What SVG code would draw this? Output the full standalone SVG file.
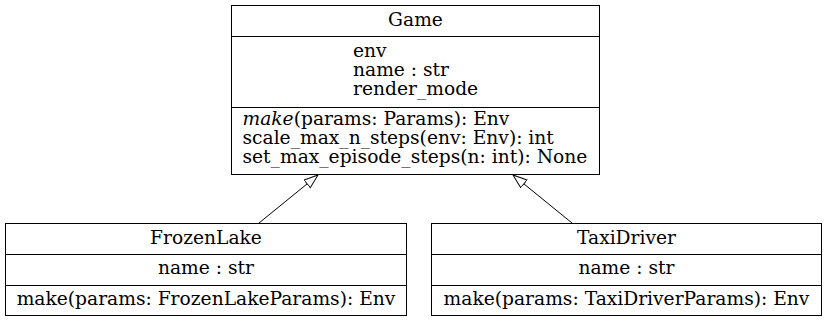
<svg xmlns="http://www.w3.org/2000/svg" width="827" height="321" viewBox="0 0 827 321">
  <style>
    .box { fill: #ffffff; stroke: #000000; stroke-width: 1; }
    .sep { stroke: #000000; stroke-width: 1; }
    text { font-family: "DejaVu Serif", "Liberation Serif", serif; font-size: 18.67px; fill: #000000; }
    .c { text-anchor: middle; }
    .edge { stroke: #000000; stroke-width: 1; fill: none; marker-end: url(#inherit); }
  </style>
  <defs>
    <marker id="inherit" markerUnits="userSpaceOnUse" markerWidth="16" markerHeight="12" refX="14.5" refY="5.5" orient="auto">
      <path d="M0.5,0.5 L14.5,5.5 L0.5,10.5 Z" fill="#ffffff" stroke="#000000" stroke-width="1"/>
    </marker>
  </defs>

  <g id="connectors">
    <line class="edge" x1="259" y1="223" x2="318" y2="175"/>
    <line class="edge" x1="572" y1="223" x2="513" y2="175"/>
  </g>

  <g id="Game">
    <rect class="box" x="231.5" y="5.5" width="368" height="169"/>
    <line class="sep" x1="231.5" y1="36.5" x2="599.5" y2="36.5"/>
    <line class="sep" x1="231.5" y1="107.5" x2="599.5" y2="107.5"/>
    <text class="c" x="415.5" y="26">Game</text>
    <text x="353" y="56.5">env</text>
    <text x="353" y="75.5">name : str</text>
    <text x="353" y="94.5">render_mode</text>
    <text x="242.5" y="125"><tspan font-style="italic">make</tspan>(params: Params): Env</text>
    <text x="242.5" y="144">scale_max_n_steps(env: Env): int</text>
    <text x="242.5" y="163">set_max_episode_steps(n: int): None</text>
  </g>

  <g id="FrozenLake">
    <rect class="box" x="5.5" y="223.5" width="401" height="92"/>
    <line class="sep" x1="5.5" y1="254.5" x2="406.5" y2="254.5"/>
    <line class="sep" x1="5.5" y1="285.5" x2="406.5" y2="285.5"/>
    <text class="c" x="206" y="243.5">FrozenLake</text>
    <text class="c" x="206" y="273.5">name : str</text>
    <text class="c" x="206" y="304.5">make(params: FrozenLakeParams): Env</text>
  </g>

  <g id="TaxiDriver">
    <rect class="box" x="431.5" y="223.5" width="390" height="92"/>
    <line class="sep" x1="431.5" y1="254.5" x2="821.5" y2="254.5"/>
    <line class="sep" x1="431.5" y1="285.5" x2="821.5" y2="285.5"/>
    <text class="c" x="626.5" y="243.5">TaxiDriver</text>
    <text class="c" x="626.5" y="273.5">name : str</text>
    <text class="c" x="626.5" y="304.5">make(params: TaxiDriverParams): Env</text>
  </g>
</svg>
